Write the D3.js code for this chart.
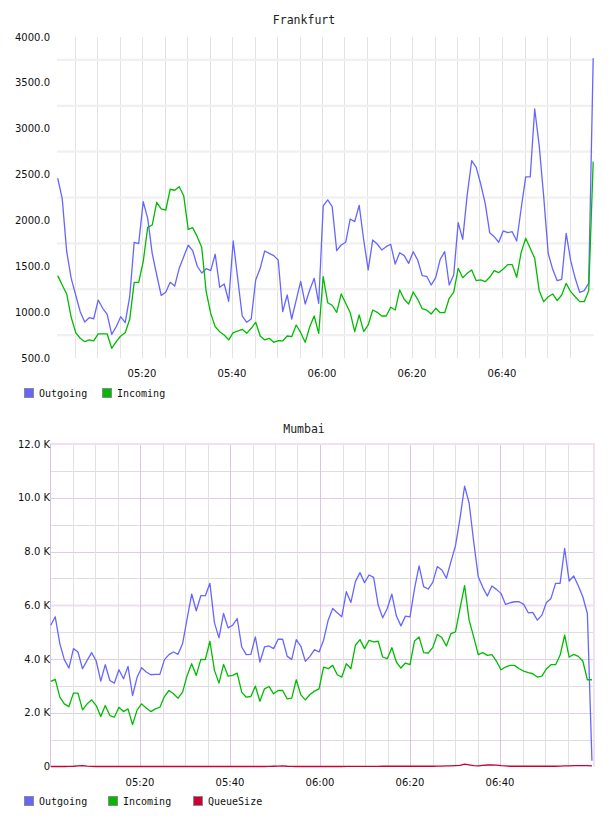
<!DOCTYPE html>
<html><head><meta charset="utf-8">
<script src="https://cdn.jsdelivr.net/npm/d3@7/dist/d3.min.js"></script>
<style>body{margin:0;background:#fff}</style>
</head><body>
<svg id="c" width="608" height="816"></svg>
<script>
// ---------- DATA ----------
const frankfurtTitle = "Frankfurt";
const mumbaiTitle = "Mumbai";
const timeTickLabels = ["05:20", "05:40", "06:00", "06:20", "06:40"];
const frankfurtYTicks = [500, 1000, 1500, 2000, 2500, 3000, 3500, 4000];
const mumbaiYTicks = [0, 2000, 4000, 6000, 8000, 10000, 12000];
const mumbaiYLabels = ["0", "2.0 K", "4.0 K", "6.0 K", "8.0 K", "10.0 K", "12.0 K"];

// sampling: Frankfurt starts 05:01:16, one sample / 60 s; Mumbai starts 05:00:10, one sample / ~60.6 s
const frankfurtStart = "05:01:16", frankfurtStepSec = 60;
const mumbaiStart = "05:00:10", mumbaiStepSec = 60.64;

const frankfurtOutgoing = [2460,2241,1659,1369,1187,1005,893,939,928,1132,
 1042,976,758,841,950,885,1168,1762,1747,2205,
 2023,1641,1405,1183,1216,1325,1285,1478,1605,1729,
 1670,1503,1427,1474,1452,1631,1271,1307,1118,1776,
 1369,958,889,925,1351,1478,1667,1641,1616,1569,
 1005,1187,925,1132,1336,1089,1242,1369,1096,2158,
 2223,2150,1670,1732,1762,2016,1987,2165,1787,1460,
 1787,1743,1678,1714,1740,1525,1648,1616,1532,1659,
 1569,1398,1391,1296,1376,1576,1659,1296,1405,1976,
 1794,2278,2651,2579,2397,2186,1866,1823,1762,1885,
 1866,1877,1776,2133,2474,2474,3215,2815,2259,1641,
 1467,1343,1358,1859,1561,1369,1216,1234,1314,3768];
const frankfurtIncoming = [1398,1296,1198,944,776,715,678,697,686,762,
 762,762,606,678,740,776,922,1325,1325,1550,
 1925,1950,2198,2125,2111,2340,2329,2368,2270,1903,
 1921,1823,1707,1223,987,841,787,751,697,776,
 794,813,769,824,889,740,697,715,671,689,
 686,740,732,860,776,671,841,958,769,1387,
 1103,1075,998,1198,1096,994,787,970,787,860,
 1023,998,958,958,1053,1023,1242,1140,1089,1220,
 1140,1038,1023,980,1042,994,994,1151,1216,1478,
 1376,1423,1460,1343,1351,1332,1380,1452,1430,1471,
 1518,1518,1380,1652,1805,1696,1587,1234,1114,1168,
 1198,1125,1187,1314,1223,1168,1114,1114,1234,2641];

const mumbaiOutgoing = [5258,5570,4573,3975,3663,4386,4261,3638,3950,4236,
 3925,3177,3788,3202,3103,3601,3265,3726,2642,3327,
 3676,3514,3414,3427,3427,3975,4162,4261,4174,4573,
 5507,6417,5794,6355,6355,6816,5345,4785,5694,5158,
 5258,5507,4448,4162,4174,4822,3888,4448,4486,4386,
 4735,4735,4099,3987,4722,4473,3912,4099,4349,4261,
 4700,5445,5881,5719,5570,6504,6105,6878,7214,6841,
 7127,7040,6006,5532,5881,6417,5607,5233,5595,5570,
 6629,7464,6691,6604,6853,7439,7314,7003,7626,8211,
 9245,10429,9806,8373,7065,6666,6342,6716,6591,6442,
 6031,6093,6130,6130,6031,5719,5732,5445,5632,6105,
 6255,6816,6816,8111,6903,7090,6728,6317,5694,212];
const mumbaiIncoming = [3165,3240,2579,2330,2230,2729,2729,2106,2330,2480,
 2268,1857,2268,1894,1832,2205,2043,2143,1558,2106,
 2330,2181,2043,2143,2205,2604,2828,2704,2542,2766,
 3389,3825,3389,3987,3975,4660,3576,3103,3800,3364,
 3389,3476,2766,2579,2604,2990,2430,2891,2978,2704,
 2828,2828,2517,2542,3227,2666,2480,2679,2804,2891,
 3701,3638,3763,3414,3327,3825,3638,4511,4722,4386,
 4697,4635,4660,4074,4012,4423,3888,3663,3850,3788,
 4673,4822,4236,4224,4423,4909,4797,4486,4947,5009,
 5881,6728,5445,4822,4162,4236,4137,4162,3925,3601,
 3701,3763,3763,3638,3551,3489,3451,3327,3364,3638,
 3788,3788,4137,4884,4074,4174,4099,3925,3227,3227];
const mumbaiQueueSize = [0,0,0,0,5,10,25,30,15,5,
 0,0,0,0,0,0,0,0,0,0,
 0,0,0,0,0,0,0,0,0,0,
 0,0,0,0,0,0,0,0,0,0,
 0,0,0,0,0,0,0,0,5,10,
 15,20,10,5,0,0,0,0,0,0,
 0,0,0,0,0,5,5,5,5,5,
 5,5,5,10,10,10,10,10,10,10,
 10,10,10,10,10,15,15,20,20,30,
 40,90,60,30,20,40,55,60,50,30,
 20,10,10,10,10,10,10,10,10,10,
 10,10,15,20,25,30,30,30,30,20];

const seriesNames = ["Outgoing", "Incoming", "QueueSize"];
const seriesColors = ["#6666ff", "#00bb00", "#cc0033"];

// ---------- HELPERS ----------
const svg = d3.select("#c");
function t(hms, addSec) {
  const [h, m, s] = hms.split(":").map(Number);
  return new Date(2020, 0, 1, h, m, s + (addSec || 0));
}
const parseTick = d3.timeParse("%H:%M");
function tickDate(lbl) { const d = parseTick(lbl); return new Date(2020,0,1,d.getHours(),d.getMinutes()); }
const fiveMin = d3.timeMinute.every(5).range(t("05:05:00"), t("06:55:01"));

function drawLegend(y, items) {
  const g = svg.append("g");
  items.forEach(it => {
    g.append("rect").attr("x", it.x + 0.5).attr("y", y + 0.5).attr("width", 9).attr("height", 9)
      .attr("fill", it.color).attr("stroke", "#8a8a8a").attr("stroke-width", 1);
    g.append("text").attr("x", it.x + 15).attr("y", y + 8.5).text(it.name)
      .attr("font-family", "DejaVu Sans Mono").attr("font-size", 10).attr("fill", "#111");
  });
}

// ---------- FRANKFURT ----------
{
  const left = 57, right = 594, top = 37, bottom = 358;
  const x = d3.scaleTime().domain([t("05:00:00"), t("07:00:00")]).range([52, 592]);
  const y = d3.scaleLinear().domain([500, 4000]).range([bottom, top]);
  const g = svg.append("g");
  g.append("text").attr("x", 304).attr("y", 24).attr("text-anchor", "middle")
    .attr("font-family", "DejaVu Sans Mono").attr("font-size", 11.5).attr("fill", "#222").text(frankfurtTitle);
  // vertical grid
  g.selectAll("line.v").data(fiveMin).join("line")
    .attr("x1", d => Math.round(x(d)) + 0.5).attr("x2", d => Math.round(x(d)) + 0.5)
    .attr("y1", top).attr("y2", bottom).attr("stroke", "#e3e3e3").attr("stroke-width", 1);
  // horizontal grid (between labelled values)
  const hVals = d3.range(750, 4000, 500);
  g.selectAll("line.h").data(hVals).join("line")
    .attr("x1", left).attr("x2", right).attr("y1", d => y(d)).attr("y2", d => y(d))
    .attr("stroke", "#f0f0f0").attr("stroke-width", 2.2);
  // y labels
  g.selectAll("text.yl").data(frankfurtYTicks).join("text")
    .attr("x", 50).attr("y", d => y(d) + 3.5).attr("text-anchor", "end")
    .attr("font-family", "DejaVu Sans").attr("font-size", 10).attr("fill", "#111")
    .text(d => d3.format(".1f")(d));
  // x labels
  g.selectAll("text.xl").data(timeTickLabels).join("text")
    .attr("x", d => x(tickDate(d))).attr("y", 377).attr("text-anchor", "middle")
    .attr("font-family", "DejaVu Sans").attr("font-size", 10).attr("fill", "#111").text(d => d);
  const times = frankfurtOutgoing.map((_, i) => t(frankfurtStart, i * frankfurtStepSec));
  [[frankfurtOutgoing, seriesColors[0]], [frankfurtIncoming, seriesColors[1]]].forEach(([vals, col]) => {
    g.append("path").datum(vals)
      .attr("d", d3.line().x((d, i) => x(times[i])).y(d => y(d)))
      .attr("fill", "none").attr("stroke", col).attr("stroke-width", 1.3).attr("stroke-linejoin", "round");
  });
  drawLegend(388, [{x: 24, name: seriesNames[0], color: seriesColors[0]},
                   {x: 102, name: seriesNames[1], color: seriesColors[1]}]);
}

// ---------- MUMBAI ----------
{
  const left = 50, right = 594, top = 444, bottom = 766.5;
  const x = d3.scaleTime().domain([t("05:00:00"), t("07:00:00")]).range([50, 590]);
  const y = d3.scaleLinear().domain([0, 12000]).range([bottom, top]);
  const g = svg.append("g");
  g.append("text").attr("x", 304).attr("y", 433).attr("text-anchor", "middle")
    .attr("font-family", "DejaVu Sans Mono").attr("font-size", 11.5).attr("fill", "#222").text(mumbaiTitle);
  // horizontal grid every 1 K
  const hVals = d3.range(1000, 12000, 1000);
  g.selectAll("line.h").data(hVals).join("line")
    .attr("x1", left).attr("x2", right)
    .attr("y1", d => Math.round(y(d)) + 0.5).attr("y2", d => Math.round(y(d)) + 0.5)
    .attr("stroke", d => d === 6000 ? "#efe0ef" : (d % 2000 === 0 ? "#e2cce2" : "#dedede"))
    .attr("stroke-width", d => d === 6000 ? 2 : 1);
  // vertical grid every 5 min
  g.selectAll("line.v").data(fiveMin).join("line")
    .attr("x1", d => Math.round(x(d)) + 0.5).attr("x2", d => Math.round(x(d)) + 0.5)
    .attr("y1", top).attr("y2", bottom)
    .attr("stroke", d => d.getMinutes() % 20 === 0 ? "#dcc4dc" : "#e2e2e2").attr("stroke-width", 1);
  // frame
  g.append("line").attr("x1", left).attr("x2", right + 1).attr("y1", top).attr("y2", top)
    .attr("stroke", "#f0e0f0").attr("stroke-width", 2);
  g.append("line").attr("x1", right).attr("x2", right).attr("y1", top).attr("y2", bottom)
    .attr("stroke", "#f0e0f0").attr("stroke-width", 2);
  g.append("line").attr("x1", left + 0.5).attr("x2", left + 0.5).attr("y1", top).attr("y2", bottom)
    .attr("stroke", "#dcc4dc").attr("stroke-width", 1);
  // y labels
  g.selectAll("text.yl").data(mumbaiYTicks).join("text")
    .attr("x", 50).attr("y", d => y(d) + 3.5).attr("text-anchor", "end")
    .attr("font-family", "DejaVu Sans").attr("font-size", 10).attr("fill", "#111")
    .text((d, i) => mumbaiYLabels[i]);
  g.selectAll("text.xl").data(timeTickLabels).join("text")
    .attr("x", d => x(tickDate(d))).attr("y", 786).attr("text-anchor", "middle")
    .attr("font-family", "DejaVu Sans").attr("font-size", 10).attr("fill", "#111").text(d => d);
  const times = mumbaiOutgoing.map((_, i) => t(mumbaiStart, i * mumbaiStepSec));
  [[mumbaiOutgoing, seriesColors[0]], [mumbaiIncoming, seriesColors[1]], [mumbaiQueueSize, seriesColors[2]]].forEach(([vals, col]) => {
    g.append("path").datum(vals)
      .attr("d", d3.line().x((d, i) => x(times[i])).y(d => y(d)))
      .attr("fill", "none").attr("stroke", col).attr("stroke-width", 1.3).attr("stroke-linejoin", "round");
  });
  drawLegend(796, [{x: 24, name: seriesNames[0], color: seriesColors[0]},
                   {x: 108, name: seriesNames[1], color: seriesColors[1]},
                   {x: 193, name: seriesNames[2], color: seriesColors[2]}]);
}
</script>
</body></html>
